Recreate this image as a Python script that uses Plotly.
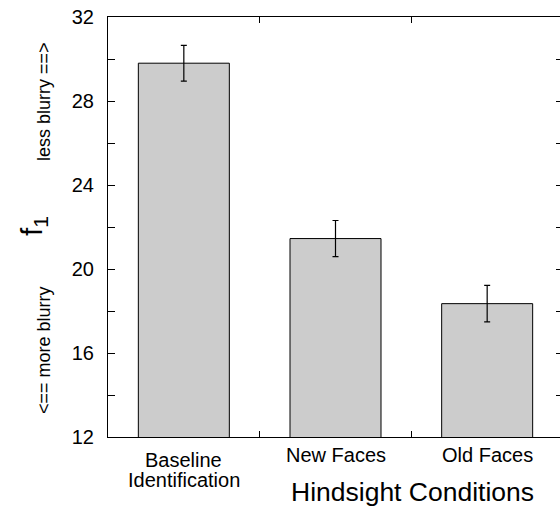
import plotly.graph_objects as go

categories = ["Baseline<br>Identification", "New Faces", "Old Faces"]
means = [29.8, 21.45, 18.35]
errors = [0.85, 0.86, 0.87]
y_tick_vals = [12, 16, 20, 24, 28, 32]
x_title = "Hindsight Conditions"
y_title = "f<sub>1</sub>"
y_note_up = "less blurry ==&gt;"
y_note_down = "&lt;== more blurry"

FONT = "Liberation Sans, Arial, Helvetica, sans-serif"

W, H = 563, 508
L, R, T, B = 108, 0, 17, 71
pw = W - L - R
ph = H - T - B

def px(sx):
    return (sx - L) / pw

def py(sy):
    return (H - B - sy) / ph

fig = go.Figure()
fig.add_trace(go.Bar(
    x=categories, y=means, width=0.6,
    marker=dict(color="#cccccc", line=dict(color="black", width=1)),
    error_y=dict(type="data", array=errors, color="black", thickness=1.2, width=3),
))

# category labels (tight line spacing as in the reference)
line_centers = {1: [455], 2: [460, 480]}
annotations = []
for cat in categories:
    lines = cat.split("<br>")
    for ln, sy in zip(lines, line_centers[len(lines)]):
        annotations.append(dict(
            text=ln, x=cat, xref="x", y=py(sy), yref="paper",
            showarrow=False, font=dict(size=20), xanchor="center", yanchor="middle"))

annotations += [
    dict(text=x_title, x=px(412), y=py(492), xref="paper", yref="paper",
         showarrow=False, font=dict(size=26.5), xanchor="center", yanchor="middle"),
    dict(text=y_note_up, x=px(44), y=py(102), xref="paper", yref="paper",
         showarrow=False, textangle=-90, font=dict(size=18), xanchor="center", yanchor="middle"),
    dict(text=y_note_down, x=px(44), y=py(350), xref="paper", yref="paper",
         showarrow=False, textangle=-90, font=dict(size=18), xanchor="center", yanchor="middle"),
    dict(text=y_title, x=px(33), y=py(226), xref="paper", yref="paper",
         showarrow=False, textangle=-90, font=dict(size=30), xanchor="center", yanchor="middle"),
]

fig.update_layout(
    width=W, height=H,
    margin=dict(l=L, r=R, t=T, b=B, pad=0),
    plot_bgcolor="white", paper_bgcolor="white",
    showlegend=False,
    font=dict(family=FONT, color="black"),
    xaxis=dict(
        type="category", range=[-0.5, 2.5],
        tickson="boundaries", ticks="inside", ticklen=6, tickcolor="black",
        showline=True, linecolor="black", linewidth=1, mirror="ticks",
        showgrid=False, showticklabels=False,
    ),
    yaxis=dict(
        range=[12, 32], tickvals=y_tick_vals,
        ticks="inside", ticklen=7, tickcolor="black",
        minor=dict(dtick=2, tick0=12, ticks="inside", ticklen=7, tickcolor="black", showgrid=False),
        showline=True, linecolor="black", linewidth=1, mirror="ticks",
        showgrid=False, zeroline=False, tickfont=dict(size=20),
        ticklabelstandoff=9, ticklabeloverflow="allow",
    ),
    annotations=annotations,
)

fig.write_html(
    "out.html",
    config={"displayModeBar": False},
    post_script="document.body.style.margin='0';document.body.style.overflow='hidden';",
)
